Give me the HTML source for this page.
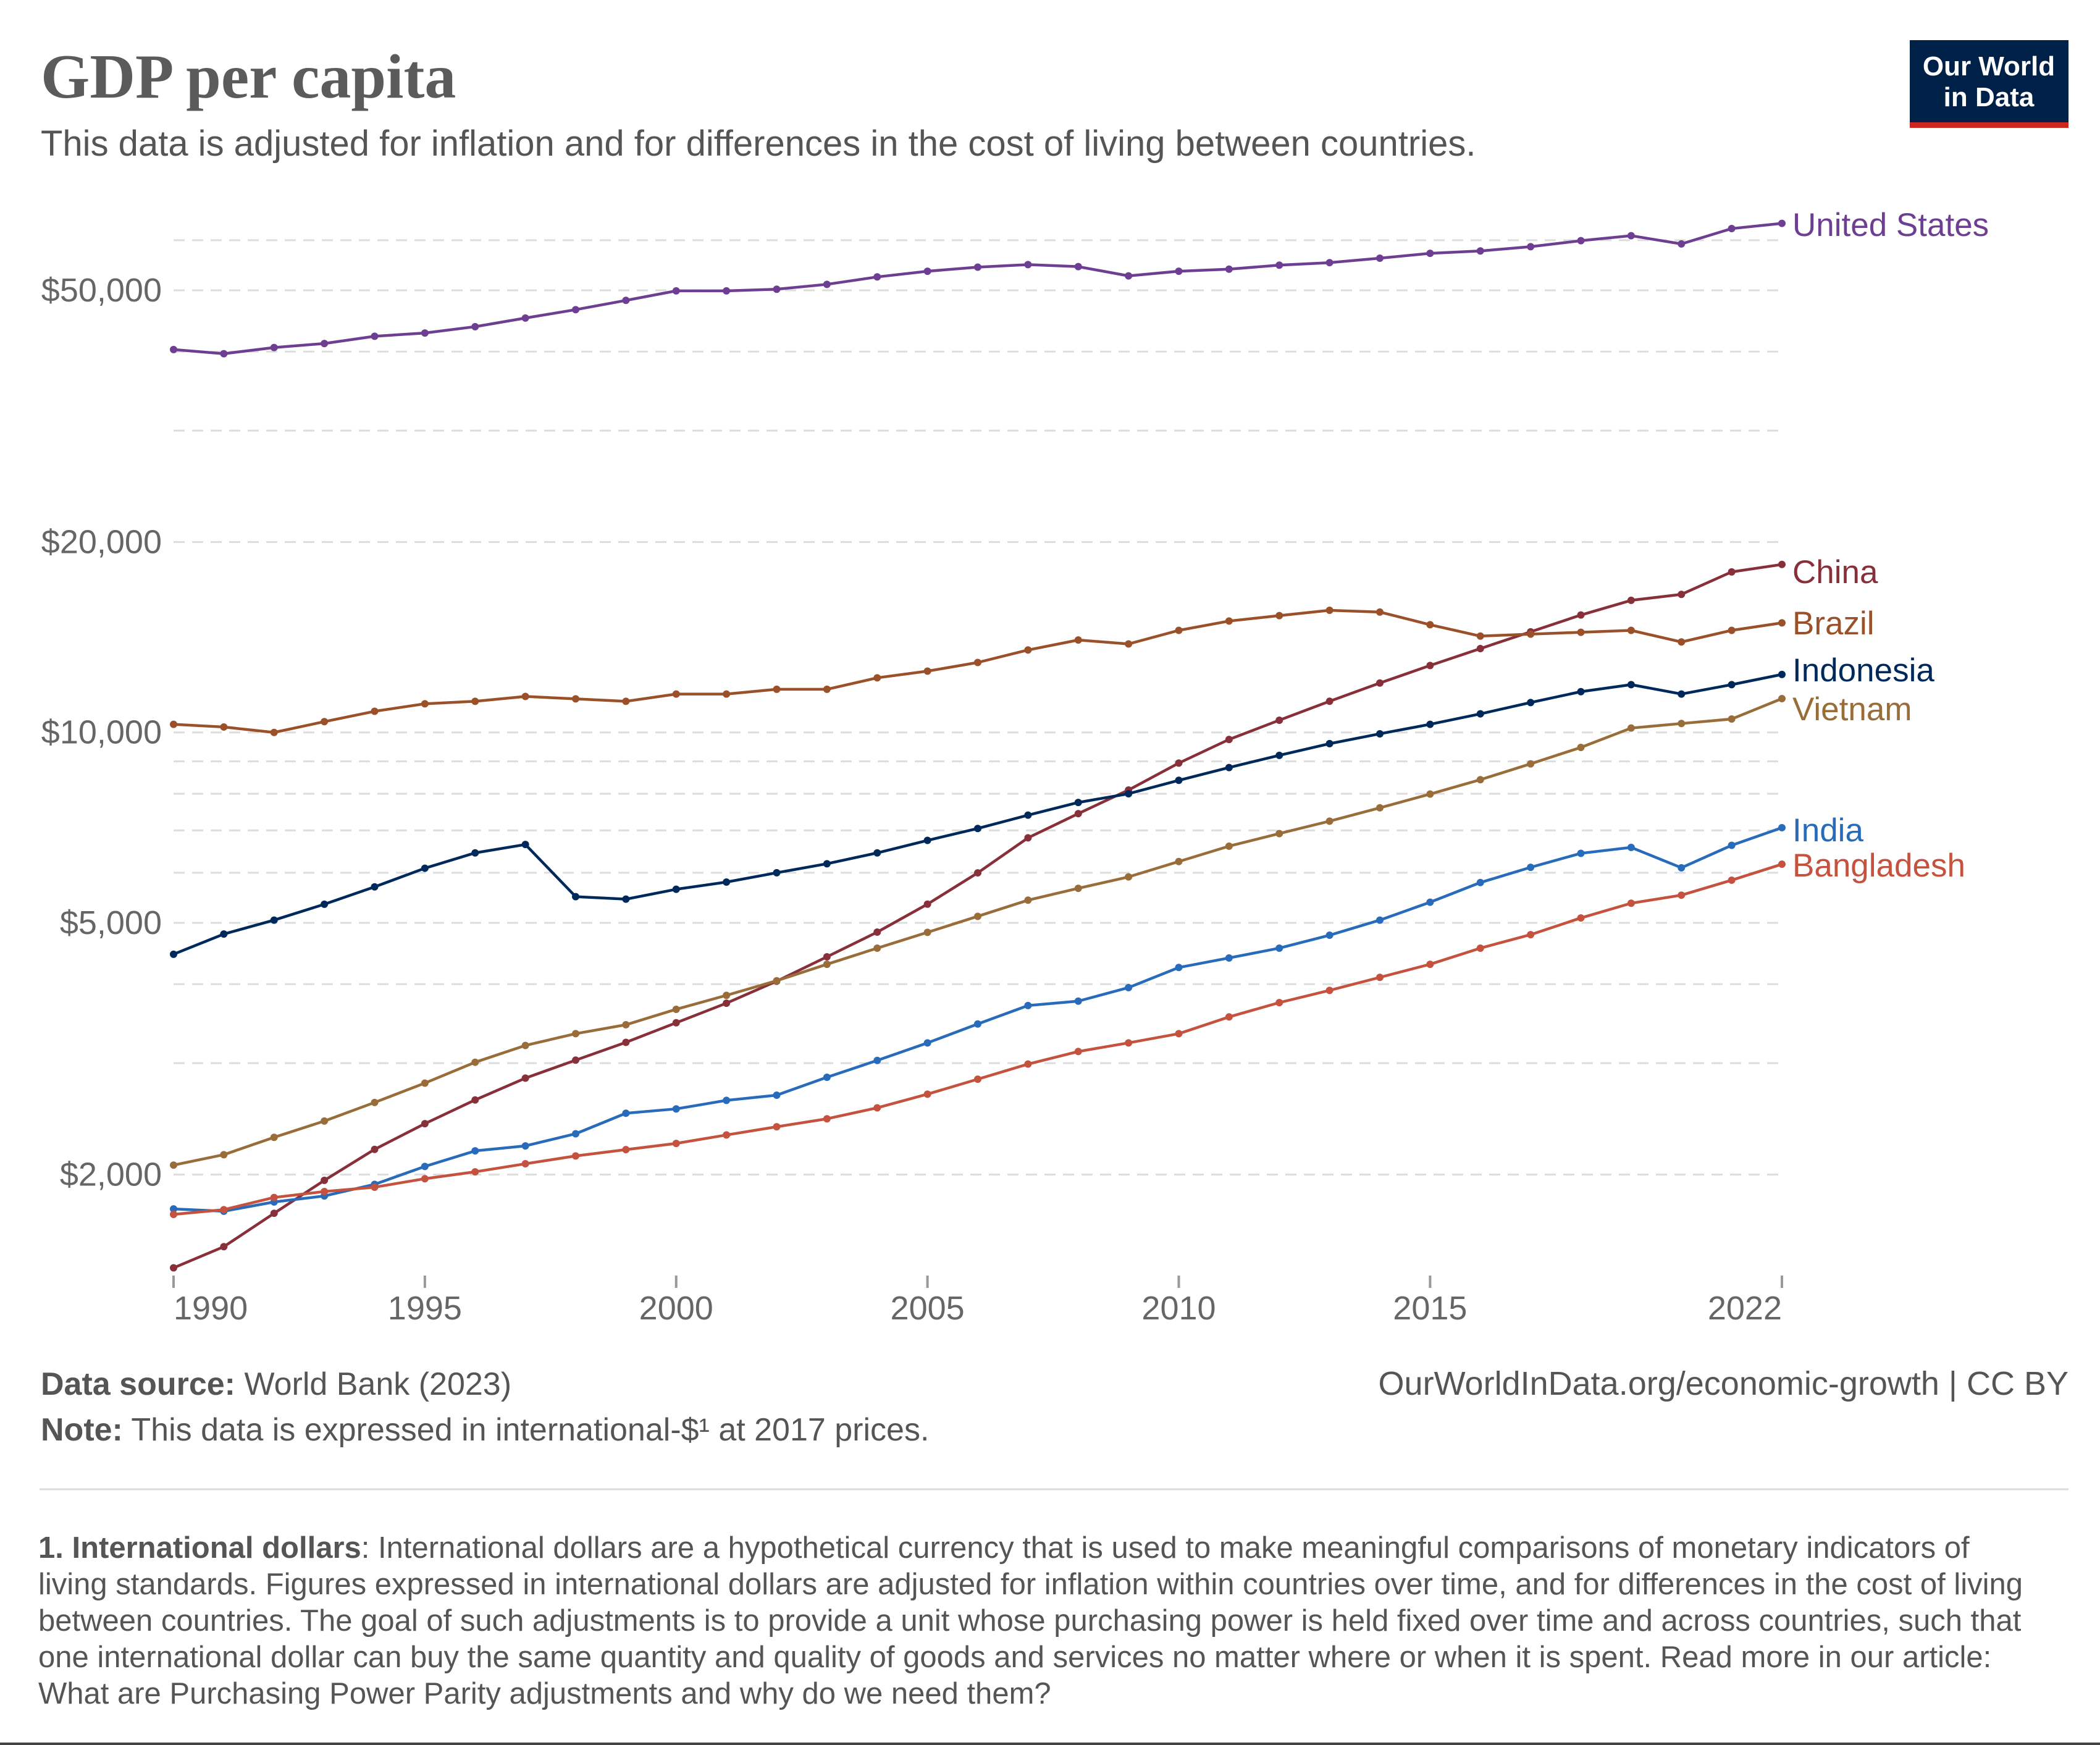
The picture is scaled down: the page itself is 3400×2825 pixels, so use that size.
<!DOCTYPE html>
<html><head><meta charset="utf-8"><style>
body{margin:0;background:#fff;width:3400px;height:2825px;overflow:hidden;font-family:"Liberation Sans",sans-serif;}
svg{position:absolute;left:0;top:0}
</style></head><body>
<svg id="chart" width="3400" height="2825" viewBox="0 0 3400 2825">
<text x="66" y="158" font-family="Liberation Serif, serif" font-weight="bold" font-size="102" fill="#5b5b5b">GDP per capita</text>
<text x="66" y="252" font-size="58" fill="#555">This data is adjusted for inflation and for differences in the cost of living between countries.</text>
<g>
<rect x="3092" y="65" width="257" height="142" fill="#002147"/>
<rect x="3092" y="198" width="257" height="9" fill="#ce261e"/>
<text x="3220" y="122" font-size="44" fill="#fff" text-anchor="middle" font-weight="bold">Our World</text>
<text x="3220" y="172" font-size="44" fill="#fff" text-anchor="middle" font-weight="bold">in Data</text>
</g>
<g id="grid"></g>
<g id="series"></g>
<text x="66" y="2258" font-size="52" fill="#555"><tspan font-weight="bold">Data source:</tspan> World Bank (2023)</text>
<text x="66" y="2332" font-size="52" fill="#555"><tspan font-weight="bold">Note:</tspan> This data is expressed in international-$¹ at 2017 prices.</text>
<text x="3349" y="2258" font-size="54" fill="#555" text-anchor="end">OurWorldInData.org/economic-growth | CC BY</text>
<line x1="64" y1="2411" x2="3349" y2="2411" stroke="#ddd" stroke-width="3"/>
<g font-size="49" fill="#555">
<text x="62" y="2522"><tspan font-weight="bold">1. International dollars</tspan>: International dollars are a hypothetical currency that is used to make meaningful comparisons of monetary indicators of</text>
<text x="62" y="2581">living standards. Figures expressed in international dollars are adjusted for inflation within countries over time, and for differences in the cost of living</text>
<text x="62" y="2640">between countries. The goal of such adjustments is to provide a unit whose purchasing power is held fixed over time and across countries, such that</text>
<text x="62" y="2699">one international dollar can buy the same quantity and quality of goods and services no matter where or when it is spent. Read more in our article:</text>
<text x="62" y="2758">What are Purchasing Power Parity adjustments and why do we need them?</text>
</g>
<line x1="0" y1="2823" x2="3400" y2="2823" stroke="#444" stroke-width="4"/>
</svg>
<script>
const years=[];for(let y=1990;y<=2022;y++)years.push(y);
const usValues=[40300,39700,40600,41200,42300,42800,43800,45200,46600,48200,49900,49900,50200,51100,52500,53600,54400,54900,54500,52700,53600,54000,54800,55300,56200,57200,57700,58600,59900,61000,59200,62600,63800];
const chinaValues=[1424,1538,1737,1958,2192,2407,2624,2841,3033,3236,3475,3732,4043,4418,4834,5352,5998,6813,7441,8109,8944,9747,10455,11201,11970,12758,13571,14424,15333,16174,16530,17939,18432];
const brazilValues=[10300,10200,10000,10400,10800,11100,11200,11400,11300,11200,11500,11500,11700,11700,12200,12500,12900,13500,14000,13800,14500,15000,15300,15600,15500,14800,14200,14300,14400,14500,13900,14500,14900];
const indonesiaValues=[4460,4800,5050,5350,5700,6100,6450,6650,5500,5450,5650,5800,6000,6200,6450,6750,7050,7400,7750,8000,8400,8800,9200,9600,9950,10300,10700,11150,11600,11900,11500,11900,12350];
const vietnamValues=[2070,2150,2290,2430,2600,2790,3010,3200,3340,3450,3650,3840,4050,4300,4560,4830,5120,5430,5670,5910,6250,6610,6920,7240,7600,7990,8420,8920,9470,10160,10330,10500,11310];
const indiaValues=[1765,1750,1810,1850,1930,2060,2180,2220,2320,2500,2540,2620,2670,2850,3030,3230,3460,3700,3760,3950,4250,4400,4560,4780,5050,5390,5790,6120,6440,6580,6110,6630,7070];
const bangladeshValues=[1730,1760,1840,1880,1910,1970,2020,2080,2140,2190,2240,2310,2380,2450,2550,2680,2830,2990,3130,3230,3340,3550,3740,3910,4100,4300,4560,4790,5090,5370,5530,5840,6190];
const seriesNames=["United States","China","Brazil","Indonesia","Vietnam","India","Bangladesh"];
const seriesColors=["#6D3E91","#883039","#9A5129","#00295B","#996D39","#286BBB","#C4523E"];
const gridValues=[60000,50000,40000,30000,20000,10000,9000,8000,7000,6000,5000,4000,3000,2000];
const tickValues=[50000,20000,10000,5000,2000];
const tickLabels=["$50,000","$20,000","$10,000","$5,000","$2,000"];
const xTicks=[1990,1995,2000,2005,2010,2015,2022];
const labelYs=[364,926,1009,1085,1148,1344,1401];
const NS="http://www.w3.org/2000/svg";
const X0=281,X1=2885;
function xs(yr){return X0+(yr-1990)*(X1-X0)/32;}
function ys(v){return 470-1024*Math.log10(v/50000);}
function mk(tag,attrs,parent){const e=document.createElementNS(NS,tag);for(const k in attrs)e.setAttribute(k,attrs[k]);parent.appendChild(e);return e;}
const grid=document.getElementById('grid');
gridValues.forEach(v=>{
  const l=mk('line',{x1:X0,x2:X1,y1:ys(v),y2:ys(v),stroke:'#ddd','stroke-width':3,'stroke-dasharray':'18,12'},grid);
  
  
});
tickValues.forEach((v,i)=>{
  const t=mk('text',{x:262,y:ys(v)+18,'text-anchor':'end','font-size':54,fill:'#666'},grid);
  t.textContent=tickLabels[i];
  
  
});
xTicks.forEach(yr=>{
  const tk=mk('line',{x1:xs(yr),x2:xs(yr),y1:2065,y2:2085,stroke:'#999','stroke-width':4},grid);
  
  
  const anchor=yr===1990?'start':(yr===2022?'end':'middle');
  const t=mk('text',{x:xs(yr),y:2136,'text-anchor':anchor,'font-size':54,fill:'#666'},grid);
  t.textContent=yr;
  
  
});
const allValues=[usValues,chinaValues,brazilValues,indonesiaValues,vietnamValues,indiaValues,bangladeshValues];
const sg=document.getElementById('series');
allValues.forEach((vals,si)=>{
  const g=mk('g',{},sg);
  
  
  const pts=vals.map((v,i)=>xs(years[i])+','+ys(v)).join(' ');
  mk('polyline',{points:pts,fill:'none',stroke:seriesColors[si],'stroke-width':4.5,'stroke-linejoin':'round'},g);
  vals.forEach((v,i)=>{
    const c=mk('circle',{cx:xs(years[i]),cy:ys(v),r:6,fill:seriesColors[si]},g);
    
    
  });
  const t=mk('text',{x:2902,y:labelYs[si]+18,'font-size':53,fill:seriesColors[si]},g);
  t.textContent=seriesNames[si];
  
  
});
</script>
</body></html>
